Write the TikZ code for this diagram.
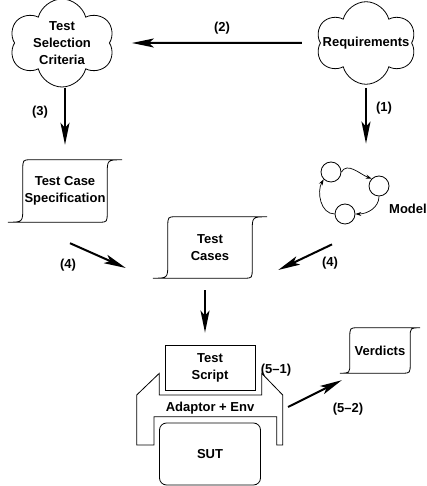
\documentclass[tikz,border=0pt]{standalone}
\usepackage{fontspec}
\setmainfont{Liberation Sans}
\usetikzlibrary{arrows.meta,shapes.symbols,calc}

\tikzset{
  lbl/.style={font=\bfseries\fontsize{13}{17}\selectfont, align=center, inner sep=0pt},
  flow/.style={-{Stealth[length=22pt,width=9pt,inset=5pt]}, line width=2pt},
  trans/.style={-{Stealth[length=6pt,width=4pt]}, line width=0.7pt},
  cloudbox/.style={lbl, draw, line width=0.8pt, cloud, cloud puffs=6},
  state/.style={draw, circle, minimum size=20pt, inner sep=0pt, line width=0.8pt},
  scrollbox/.style={lbl, minimum width=#1},
}

% outline of a document-like box round a node, #2 = flap size
\newcommand{\scrollline}[2]{%
  \draw[line width=0.8pt] (#1.north east)
    .. controls ($(#1.north east)+(-#2,0)$) .. ($(#1.north east)+(-#2,-#2)$)
    -- ($(#1.south east)+(-#2,10)$)
    .. controls ($(#1.south east)+(-#2,0)$) .. ($(#1.south east)+(-#2-8,0)$)
    -- (#1.south west)
    .. controls ($(#1.south west)+(#2,0)$) .. ($(#1.south west)+(#2,#2)$)
    -- ($(#1.north west)+(#2,-10)$)
    .. controls ($(#1.north west)+(#2,0)$) .. ($(#1.north west)+(#2+8,0)$)
    -- cycle;}

\begin{document}
\begin{tikzpicture}[x=1pt, y=1pt, >=Stealth]
  \useasboundingbox (0,0) rectangle (426,486);
  % clouds
  \node[cloudbox, inner xsep=-4pt, minimum width=105pt, minimum height=78pt] (crit) at (62,443) {Test\\Selection\\Criteria};
  \node[cloudbox, inner xsep=-20pt, inner ysep=2pt, minimum width=100pt, minimum height=80pt] (req) at (366,443) {Requirements};
  % documents
  \node[scrollbox=114pt, minimum height=62pt] (tcs) at (65,295) {Test Case\\Specification};
  \scrollline{tcs}{15}
  \node[scrollbox=114pt, minimum height=61pt] (cases) at (210,238.5) {Test\\Cases};
  \scrollline{cases}{15}
  \node[scrollbox=80pt, minimum height=45pt] (verd) at (380,135.5) {Verdicts};
  \scrollline{verd}{10}
  % model
  \node[state] (s1) at (331,314) {};
  \node[state] (s2) at (379,300) {};
  \node[state] (s3) at (345,272) {};
  \node[lbl, anchor=west] (mlbl) at (389,277) {Model};
  \draw[trans] (s1.east) to[out=60,in=160] (s2.north west);
  \draw[trans] (s2.south) to[out=-90,in=0] (s3.east);
  \draw[trans] (s3.west) to[out=180,in=-120] (s1.south west);
  % test bench
  \node[lbl, draw, line width=0.8pt, minimum width=90pt, minimum height=45pt] (script) at (210,118.5) {Test\\Script};
  \draw[line width=0.8pt] (159.3,112.7) -- (159.3,91) -- (261.7,91) -- (261.7,112.7)
    -- (282.7,91) -- (282.7,41) -- (276.7,41) -- (276.7,69.3) -- (154,69.3)
    -- (154,41) -- (136.7,41) -- (136.7,91) -- cycle;
  \node[lbl] (adaptor) at (210,78) {Adaptor + Env};
  \node[lbl, draw, line width=0.8pt, rounded corners=7pt, minimum width=101pt, minimum height=62pt] (sut) at (210,32) {SUT};
  \coordinate (envout) at (288,79);
  % steps
  \draw[flow] ($(req.west)+(-18,0)$) -- ($(crit.east)+(22,0)$);
  \node[lbl] (l2) at (222,458) {(2)};
  \draw[flow] (65,398) -- ([yshift=15pt]tcs.north);
  \node[lbl] (l3) at (40,374) {(3)};
  \draw[flow] (366,398) -- ([yshift=18pt]req.south |- s1.north);
  \node[lbl] (l1) at (384,378) {(1)};
  \draw[flow] ($(tcs.south)+(5,-21)$) -- ($(cases.west)+(-27,-20.5)$);
  \node[lbl] (l4a) at (68,221) {(4)};
  \draw[flow] ($(s3.south)+(-13,-20)$) -- ($(cases.east)+(11,-22.5)$);
  \node[lbl] (l4b) at (330,223) {(4)};
  \draw[flow] ([xshift=-5pt,yshift=-12pt]cases.south) -- ([xshift=-5pt,yshift=12pt]script.north);
  \node[lbl] (l51) at (276,116) {(5--1)};
  \draw[flow] (envout) -- ($(verd.south west)+(2,-7)$);
  \node[lbl] (l52) at (348,77) {(5--2)};
\end{tikzpicture}
\end{document}
